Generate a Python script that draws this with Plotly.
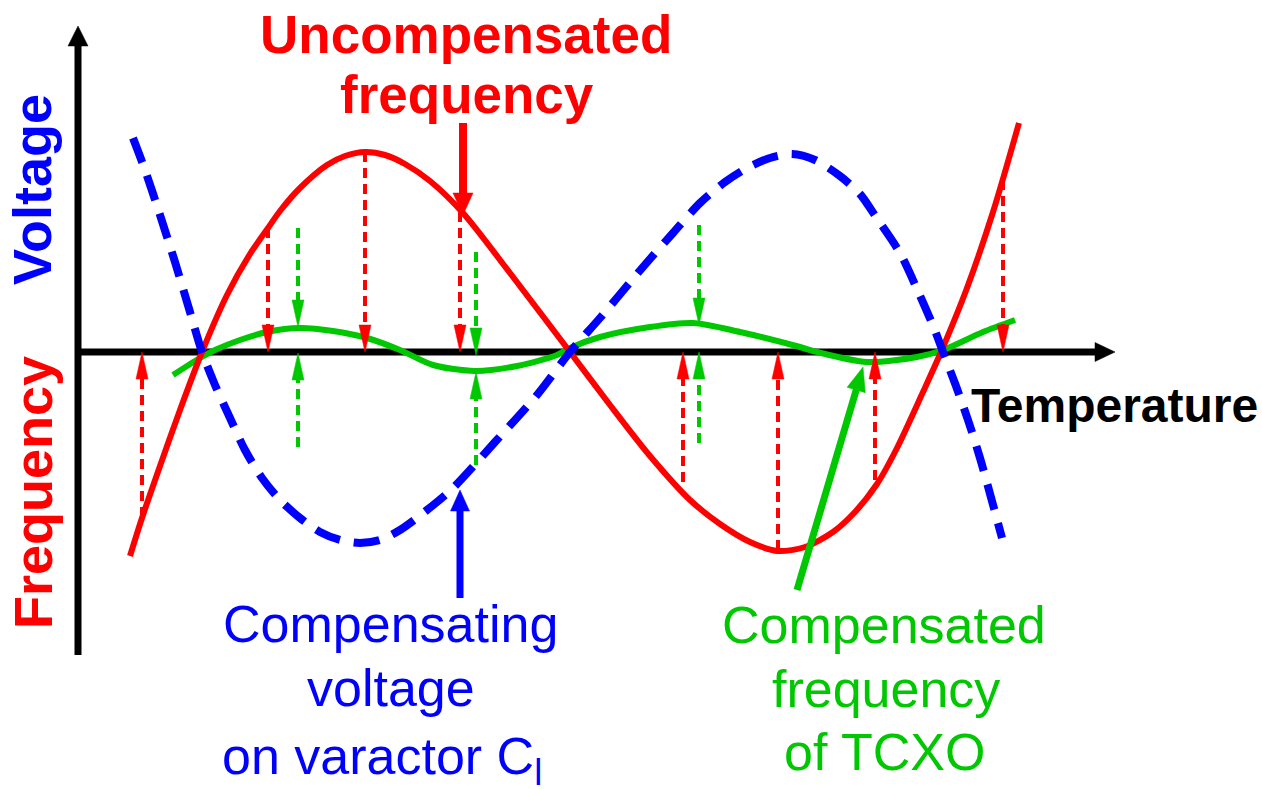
import math
import plotly.graph_objects as go

RED = "#FF0000"
BLUE = "#0000FF"
GREEN = "#00C800"
BLACK = "#000000"
FONT = "Liberation Sans, Arial, Helvetica, sans-serif"

# ---------------- data (T: temperature position, values: deviation from the axis, up = +) -------------
# Uncompensated frequency
red_T = [130, 142, 160, 180, 202, 227, 250, 268, 280, 300, 327, 345, 365, 385, 405, 430, 463, 510,
         570, 610, 650, 690, 720, 750, 778, 805, 833, 855, 877, 897, 923, 941, 967, 993, 1019]
red_F = [-204, -166, -114, -58, 0, 57, 98, 124, 141, 164, 187, 196, 200, 197, 188, 171, 139, 79,
         0, -53, -104, -148, -172, -190, -199, -195, -180, -160, -132, -96, -40, 0, 64, 140, 229]

# Compensating voltage on varactor
blue_T = [133, 145, 160, 175, 190, 202, 215, 230, 245, 262, 280, 300, 320, 340, 360, 380, 400,
          427, 453, 495, 537, 570, 600, 643, 673, 700, 725, 747, 770, 792, 815, 840, 860, 876,
          900, 917, 934, 943, 956, 968, 980, 1002]
blue_V = [214, 182, 137, 90, 40, 0, -33, -66, -98, -126, -148, -166, -180, -188, -191, -188, -178,
          -158, -136, -90, -43, 0, 34, 85, 119, 149, 170, 184, 194, 198, 192, 176, 158, 135,
          99, 63, 24, 0, -34, -68, -106, -186]

# Compensated frequency of TCXO
green_T = [173, 200, 215, 240, 267, 300, 333, 367, 400, 433, 475, 517, 557, 570, 600, 650,
           693, 740, 800, 817, 867, 917, 943, 983, 1015]
green_F = [-23, -6, 2, 12, 20, 24, 21, 14, 2, -13, -19, -14, -3, 4, 15, 25,
           29, 20, 5, 0, -10, -5, 2, 20, 32]

# dashed red arrows: from the uncompensated curve to the axis
red_arrow_T = [142, 268, 365, 460, 683, 778, 875, 1003]
red_arrow_from = [-165, 124, 200, 140, -130, -198, -128, 172]
red_arrow_to = [0, 0, 0, 0, 0, 0, 0, 0]

# dashed green arrows
green_arrow_T = [298, 298, 476, 476, 699, 699]
green_arrow_from = [124, -95, 100, -113, 127, -91]
green_arrow_to = [25, -1, -3, -20, 27, 0]

# axes extents
h_axis_T = [78, 1115]
v_axis_T = 78
v_axis_V = [-303, 326]

# label pointer arrows (T0, V0) -> (T1, V1)
ptr_red = (463, 229, 463, 137)
ptr_blue = (460, -246, 460, -138)
ptr_green = (797, -238, 863, -15)

fig = go.Figure()


def add_arrow(x0, y0, x1, y1, color, width, head_len, head_w, dash="solid"):
    dx, dy = x1 - x0, y1 - y0
    d = math.hypot(dx, dy)
    ux, uy = dx / d, dy / d
    bx, by = x1 - ux * head_len, y1 - uy * head_len
    sx, sy = x1 - ux * (head_len - 4), y1 - uy * (head_len - 4)
    fig.add_trace(go.Scatter(x=[x0, sx], y=[y0, sy], mode="lines",
                             line=dict(color=color, width=width, dash=dash),
                             hoverinfo="skip"))
    px, py = -uy, ux
    hw = head_w / 2
    fig.add_trace(go.Scatter(
        x=[x1, bx + px * hw, bx - px * hw, x1],
        y=[y1, by + py * hw, by - py * hw, y1],
        mode="lines", fill="toself", fillcolor=color,
        line=dict(color=color, width=0.5), hoverinfo="skip"))


# axes
add_arrow(h_axis_T[0] - 3, 0, h_axis_T[1], 0, BLACK, 7, 20, 19)
add_arrow(v_axis_T, v_axis_V[0], v_axis_T, v_axis_V[1], BLACK, 7, 20, 20)

# curves
fig.add_trace(go.Scatter(x=green_T, y=green_F, mode="lines",
                         line=dict(color=GREEN, width=6, shape="spline", smoothing=0.8),
                         hoverinfo="skip"))
fig.add_trace(go.Scatter(x=red_T, y=red_F, mode="lines",
                         line=dict(color=RED, width=6, shape="spline", smoothing=0.8),
                         hoverinfo="skip"))
fig.add_trace(go.Scatter(x=blue_T, y=blue_V, mode="lines",
                         line=dict(color=BLUE, width=8, shape="spline", smoothing=0.8,
                                   dash="26px,14px"),
                         hoverinfo="skip"))

# dashed arrows
for t, a, b in zip(red_arrow_T, red_arrow_from, red_arrow_to):
    add_arrow(t, a, t, b, RED, 4, 27, 12, dash="10px,6px")
for t, a, b in zip(green_arrow_T, green_arrow_from, green_arrow_to):
    add_arrow(t, a, t, b, GREEN, 4, 27, 12, dash="10px,6px")

# pointer arrows
add_arrow(*ptr_red, RED, 8, 22, 20)
add_arrow(*ptr_blue, BLUE, 7, 21, 19)
add_arrow(*ptr_green, GREEN, 7, 24, 19)


def label(text, x, y, color, size, bold=False, xanchor="center", yanchor="top", angle=0):
    fig.add_annotation(x=x, y=y, xref="x", yref="y", text=f"<b>{text}</b>" if bold else text,
                       showarrow=False, xanchor=xanchor, yanchor=yanchor, textangle=angle,
                       font=dict(family=FONT, size=size, color=color))


label("Uncompensated", 466, 349, RED, 53, bold=True)
label("frequency", 467, 289, RED, 53, bold=True)
label("Temperature", 1114, -25, BLACK, 48, bold=True)
label("Compensating", 390, -241, BLUE, 52)
label("voltage", 391, -305, BLUE, 52)
label("on varactor C<sub>l</sub>", 220, -373, BLUE, 52, xanchor="left")
label("Compensated", 884, -242, GREEN, 52)
label("frequency", 886, -306, GREEN, 52)
label("of TCXO", 884, -369, GREEN, 52)
label("Voltage", 32, 162, BLUE, 54, bold=True, yanchor="middle", angle=-90)
label("Frequency", 33, -141, RED, 54, bold=True, yanchor="middle", angle=-90)

fig.update_layout(
    width=1262, height=789,
    margin=dict(l=0, r=0, t=0, b=0),
    paper_bgcolor="white", plot_bgcolor="white",
    showlegend=False,
    xaxis=dict(range=[0, 1262], visible=False, fixedrange=True),
    yaxis=dict(range=[-437, 352], visible=False, fixedrange=True),
)

fig.write_html("out.html", config={"displayModeBar": False},
               post_script="document.body.style.margin='0';document.body.style.overflow='hidden';")
